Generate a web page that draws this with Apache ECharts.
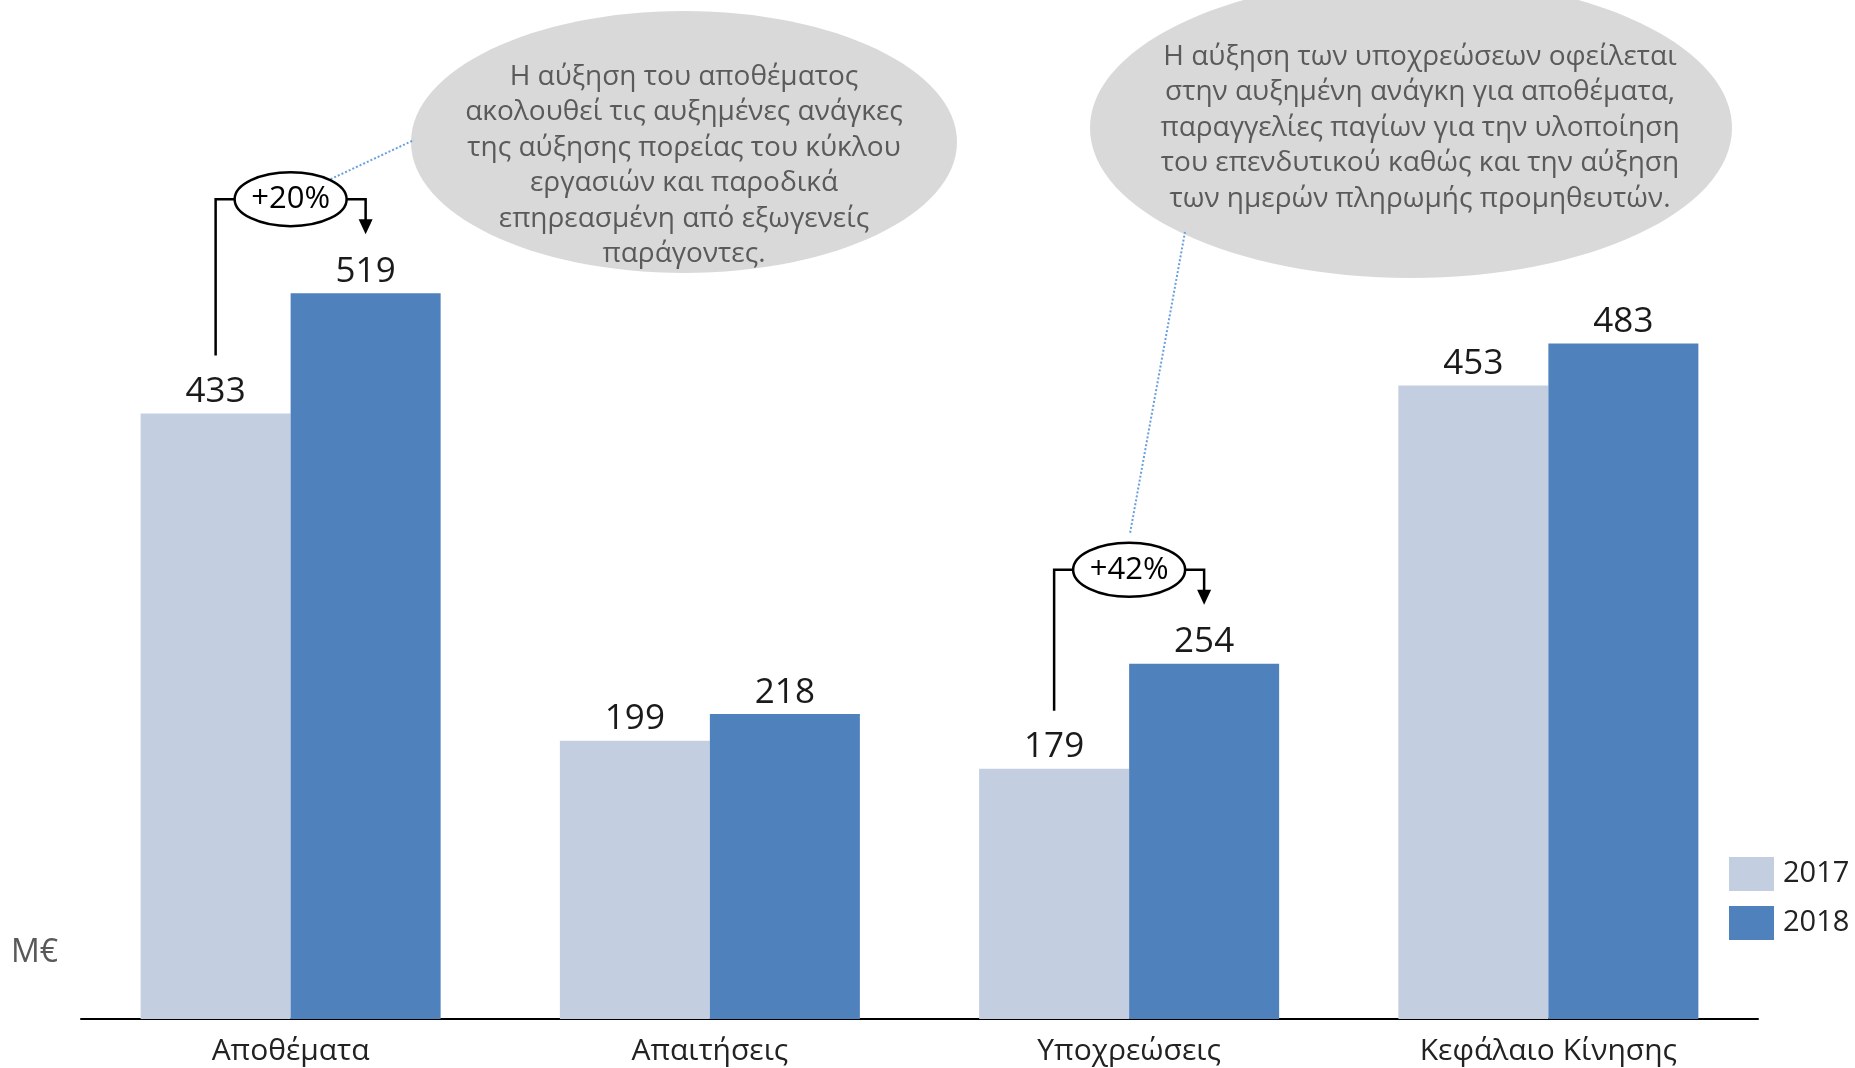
<!DOCTYPE html>
<html><head><meta charset="utf-8">
<script src="https://cdn.jsdelivr.net/npm/echarts@6/dist/echarts.min.js"></script>
<style>html,body{margin:0;padding:0;background:#fff}#c{width:1855px;height:1068px}</style>
</head><body><div id="c"></div>
<script>
// ---- data ----
const categories = ['Αποθέματα', 'Απαιτήσεις', 'Υποχρεώσεις', 'Κεφάλαιο Κίνησης'];
const seriesNames = ['2017', '2018'];
const values2017 = [433, 199, 179, 453];
const values2018 = [519, 218, 254, 483];
const unitLabel = 'M€';
const growthCategoryIndexes = [0, 2];
const calloutLeftLines = [
  'Η αύξηση του αποθέματος',
  'ακολουθεί τις αυξημένες ανάγκες',
  'της αύξησης πορείας του κύκλου',
  'εργασιών και παροδικά',
  'επηρεασμένη από εξωγενείς',
  'παράγοντες.'
];
const calloutRightLines = [
  'Η αύξηση των υποχρεώσεων οφείλεται',
  'στην αυξημένη ανάγκη για αποθέματα,',
  'παραγγελίες παγίων για την υλοποίηση',
  'του επενδυτικού καθώς και την αύξηση',
  'των ημερών πληρωμής προμηθευτών.'
];

// ---- style ----
const FONT = '"Open Sans", "Noto Sans", sans-serif';
const C17 = '#c3cee1', C18 = '#4f81bd';
const BAR_W = 150;
const chart = echarts.init(document.getElementById('c'));

chart.setOption({
  animation: false,
  backgroundColor: '#fff',
  grid: { left: 81, right: 97, top: 40, bottom: 49 },
  legend: {
    orient: 'vertical', left: 1724, top: 852,
    itemWidth: 45, itemHeight: 34, itemGap: 15,
    icon: 'rect',
    textStyle: { fontFamily: FONT, fontSize: 29, color: '#222', padding: [6, 0, 0, 4] },
    data: seriesNames
  },
  xAxis: {
    type: 'category', data: categories,
    axisLine: { lineStyle: { color: '#000', width: 2 } },
    axisTick: { show: false },
    axisLabel: { fontFamily: FONT, fontSize: 30, color: '#222', margin: 17 }
  },
  yAxis: { type: 'value', min: 0, max: 700, show: false },
  series: [
    { name: seriesNames[0], type: 'bar', data: values2017, barWidth: BAR_W, barGap: 0,
      itemStyle: { color: C17 },
      label: { show: true, position: 'top', distance: 4, fontFamily: FONT, fontSize: 35, color: '#1a1a1a' } },
    { name: seriesNames[1], type: 'bar', data: values2018, barWidth: BAR_W, barGap: 0,
      itemStyle: { color: C18 },
      label: { show: true, position: 'top', distance: 4, fontFamily: FONT, fontSize: 35, color: '#1a1a1a' } }
  ]
});

function px(cat, val) { return chart.convertToPixel({ xAxisIndex: 0, yAxisIndex: 0 }, [cat, val]); }

const g = [];
// big callouts
const bigL = { cx: 684, cy: 142, rx: 273, ry: 131 };
const bigR = { cx: 1411, cy: 128, rx: 321, ry: 150 };
[bigL, bigR].forEach(e => g.push({ type: 'ellipse', shape: e, style: { fill: '#d9d9d9' }, z: 1 }));
function addLines(lines, cx, y0, size) {
  lines.forEach((t, i) => g.push({
    type: 'text', z: 2,
    style: { text: t, x: cx, y: y0 + i * 35.4, align: 'center', verticalAlign: 'middle',
      font: size + 'px ' + FONT, fill: '#5a5a5a' }
  }));
}
addLines(calloutLeftLines, 684, 77, 28);
addLines(calloutRightLines, 1420, 57, 28);

// growth brackets
const small = [];
growthCategoryIndexes.forEach(ci => {
  const v1 = values2017[ci], v2 = values2018[ci];
  const pct = Math.round((v2 / v1 - 1) * 100);
  const c = px(ci, 0)[0];
  const x1 = c - BAR_W / 2, x2 = c + BAR_W / 2;
  const y1 = px(ci, v1)[1], y2 = px(ci, v2)[1];
  const yb = y2 - 94;
  const rx = 56, ry = 27;
  g.push({ type: 'polyline', z: 3, shape: { points: [[x1, y1 - 58], [x1, yb], [c - rx, yb]] },
    style: { stroke: '#000', lineWidth: 2.5, fill: null } });
  g.push({ type: 'polyline', z: 3, shape: { points: [[c + rx, yb], [x2, yb], [x2, y2 - 72]] },
    style: { stroke: '#000', lineWidth: 2.5, fill: null } });
  g.push({ type: 'polygon', z: 3, shape: { points: [[x2 - 7, y2 - 74], [x2 + 7, y2 - 74], [x2, y2 - 59]] },
    style: { fill: '#000' } });
  g.push({ type: 'ellipse', z: 3, shape: { cx: c, cy: yb, rx: rx, ry: ry },
    style: { fill: '#fff', stroke: '#000', lineWidth: 2.5 } });
  g.push({ type: 'text', z: 4, style: { text: '+' + pct + '%', x: c, y: yb, align: 'center', verticalAlign: 'middle',
    font: '31px ' + FONT, fill: '#000' } });
  small.push({ c: c, yb: yb });
});
// dotted connectors
g.push({ type: 'line', z: 2, shape: { x1: small[0].c + 40, y1: small[0].yb - 20, x2: 414, y2: 140 },
  style: { stroke: '#6a9fdc', lineWidth: 2, lineDash: [2, 2] } });
g.push({ type: 'line', z: 2, shape: { x1: small[1].c + 1, y1: small[1].yb - 37, x2: 1185, y2: 232 },
  style: { stroke: '#6a9fdc', lineWidth: 2, lineDash: [2, 2] } });
// unit label
g.push({ type: 'text', z: 2, style: { text: unitLabel, x: 11, y: 953, verticalAlign: 'middle',
  font: '32px ' + FONT, fill: '#595959' } });

chart.setOption({ graphic: g });
</script></body></html>
